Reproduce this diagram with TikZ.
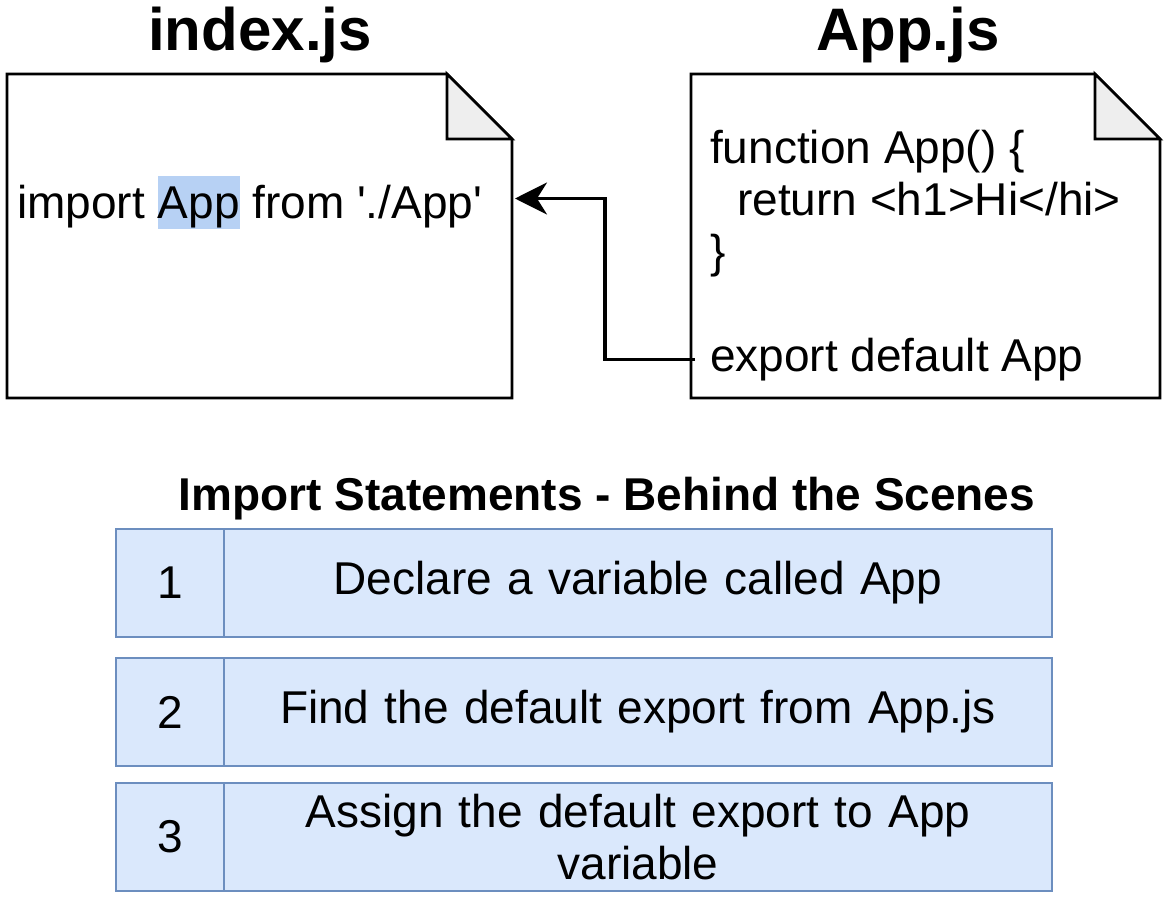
\documentclass[tikz,border=0pt]{standalone}
\usepackage{fontspec}
\setmainfont{Liberation Sans}
\usepackage{tikz}
\usetikzlibrary{positioning,shapes,arrows.meta}
\definecolor{rowblue}{HTML}{DAE8FC}
\definecolor{rowedge}{HTML}{6C8EBF}
\definecolor{hlblue}{HTML}{B7D1F4}
\definecolor{foldgray}{HTML}{EEEEEE}
\tikzstyle{doc} = [rectangle, inner sep=0pt, outer sep=0pt]
\tikzstyle{docline} = [line width=2.8pt, line join=miter, draw=black]
\tikzstyle{fold} = [docline, fill=foldgray]
\tikzstyle{title} = [font=\fontsize{60}{72}\selectfont\bfseries, anchor=base]
\tikzstyle{heading} = [font=\fontsize{46}{52}\selectfont\bfseries, anchor=base]
\tikzstyle{code} = [font=\fontsize{46}{52}\selectfont, inner sep=0pt, anchor=base west]
\tikzstyle{numcell} = [rectangle, minimum width=108pt, minimum height=108pt, fill=rowblue, draw=rowedge, line width=2.5pt, outer sep=0pt, font=\fontsize{46}{52}\selectfont]
\tikzstyle{txtcell} = [numcell, minimum width=828pt, text width=790pt, inner ysep=0pt, align=center]
\tikzstyle{connect} = [line width=3.2pt, -{Stealth[length=32pt,width=32pt,inset=10pt]}]
\newcommand{\hlapp}[1]{{\setlength{\fboxsep}{0pt}\colorbox{hlblue}{\rule[-11pt]{0pt}{53pt}#1}}}

\begin{document}
\begin{tikzpicture}[x=1pt,y=-1pt]
			\useasboundingbox (0,0) rectangle (1167,897);
			\node (indextitle) [title] at (260,50) {index.js};
			\node (apptitle) [title] at (908,50) {App.js};
			\node (indexdoc) [doc, minimum width=505pt, minimum height=324pt] at (259.5,236) {};
			\node (appdoc) [doc, minimum width=469pt, minimum height=324pt] at (925.5,236) {};
			
			\draw [docline] (indexdoc.north west) -- ([xshift=-65pt]indexdoc.north east) -- ([yshift=-65pt]indexdoc.north east) -- (indexdoc.south east) -- (indexdoc.south west) -- cycle;
			\draw [fold] ([xshift=-65pt]indexdoc.north east) -- ([xshift=-65pt,yshift=-65pt]indexdoc.north east) -- ([yshift=-65pt]indexdoc.north east) -- cycle;
			\draw [docline] (appdoc.north west) -- ([xshift=-65pt]appdoc.north east) -- ([yshift=-65pt]appdoc.north east) -- (appdoc.south east) -- (appdoc.south west) -- cycle;
			\draw [fold] ([xshift=-65pt]appdoc.north east) -- ([xshift=-65pt,yshift=-65pt]appdoc.north east) -- ([yshift=-65pt]appdoc.north east) -- cycle;
			
			\node (import) [code] at (17,218) {import \hlapp{App} from \textquotesingle./App\textquotesingle};
			\node (appline1) [code] at (710,163) {function App() \{};
			\node (appline2) [code] at (737,215) {return <h1>Hi</hi>};
			\node (appline3) [code] at (710,267) {\}};
			\node (export) [code, inner xsep=15pt] at (695,371) {export default App};
			
			\draw [connect] (export.west) -- ++(-90pt,0) |- ([xshift=3pt,yshift=4pt]indexdoc.east |- import.center);
			
			\node (heading) [heading] at (607,510) {Import Statements - Behind the Scenes};
			\node (num1) [numcell, anchor=north west] at (116,529) {1};
			\node (txt1) [txtcell, right=0pt of num1] {Declare a variable called App};
			\node (num2) [numcell, below=21pt of num1] {2};
			\node (txt2) [txtcell, right=0pt of num2] {Find the default export from App.js};
			\node (num3) [numcell, below=17pt of num2] {3};
			\node (txt3) [txtcell, right=0pt of num3] {Assign the default export to App\\variable};
\end{tikzpicture}
\end{document}
